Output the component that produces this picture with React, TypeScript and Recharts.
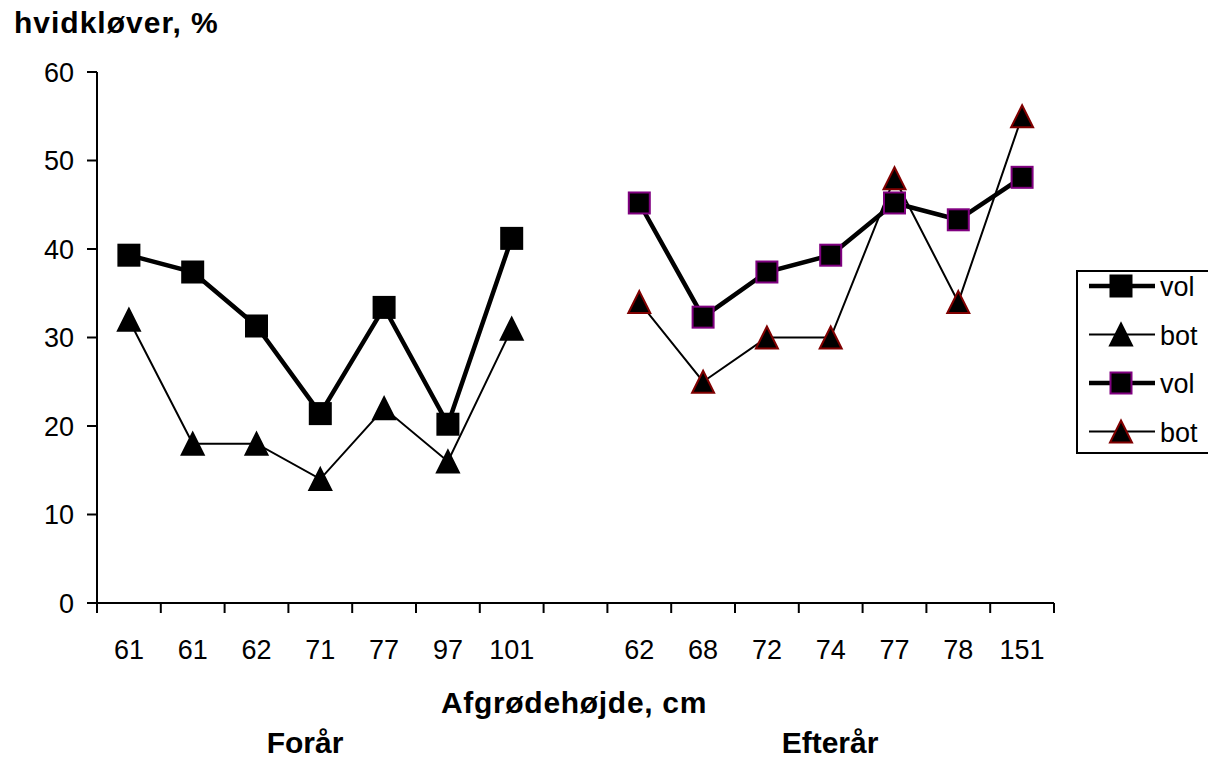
import React from "react"
import { LineChart, Line, XAxis, YAxis } from "recharts"

const categories = ["61", "61", "62", "71", "77", "97", "101", "", "62", "68", "72", "74", "77", "78", "151"]
const forVol = [39.3, 37.4, 31.3, 21.4, 33.4, 20.2, 41.2]
const forBot = [32, 18, 18, 14, 22, 16, 31]
const eftVol = [45.2, 32.3, 37.4, 39.3, 45.2, 43.3, 48.1]
const eftBot = [34, 25, 30, 30, 48, 34, 55]
const yTicks = [0, 10, 20, 30, 40, 50, 60]

const data = categories.map((label, i) => ({
  x: i + 0.5,
  label,
  forVol: i < 7 ? forVol[i] : null,
  forBot: i < 7 ? forBot[i] : null,
  eftVol: i >= 8 ? eftVol[i - 8] : null,
  eftBot: i >= 8 ? eftBot[i - 8] : null,
}))

const boundaryTicks = categories.map((_, i) => i).concat([categories.length])
const labelTicks = categories.map((_, i) => i + 0.5)

const FONT = "'Liberation Sans', Arial, sans-serif"

function Square({ cx, cy, stroke }: { cx: number; cy: number; stroke: string }) {
  const s = 21
  return <rect x={cx - s / 2} y={cy - s / 2} width={s} height={s} fill="#000" stroke={stroke} strokeWidth={2} />
}

function Triangle({ cx, cy, stroke }: { cx: number; cy: number; stroke: string }) {
  const w = 22
  const h = 22
  const pts = `${cx},${cy - h / 2} ${cx + w / 2},${cy + h / 2} ${cx - w / 2},${cy + h / 2}`
  return <polygon points={pts} fill="#000" stroke={stroke} strokeWidth={2} strokeLinejoin="miter" />
}

const dot = (kind: "sq" | "tri", stroke: string) => (props: any) => {
  const { cx, cy, index } = props
  if (cx == null || cy == null || props.value == null) return <g key={index} />
  return (
    <g key={index}>
      {kind === "sq" ? <Square cx={cx} cy={cy} stroke={stroke} /> : <Triangle cx={cx} cy={cy} stroke={stroke} />}
    </g>
  )
}

const legendItems = [
  { name: "vol", kind: "sq", stroke: "#000", width: 4.5 },
  { name: "bot", kind: "tri", stroke: "#000", width: 2 },
  { name: "vol", kind: "sq", stroke: "#800080", width: 4.5 },
  { name: "bot", kind: "tri", stroke: "#800000", width: 2 },
]

export default function App() {
  return (
    <div style={{ position: "absolute", left: 0, top: 0, width: 1208, height: 758, background: "#fff", overflow: "hidden" }}>
      <LineChart width={1208} height={758} data={data} margin={{ top: 72, right: 154, left: 0, bottom: 0 }}>
        <XAxis
          dataKey="x"
          type="number"
          domain={[0, 15]}
          ticks={boundaryTicks}
          interval={0}
          tickFormatter={() => ""}
          height={10}
          tickSize={10}
          axisLine={{ stroke: "#000", strokeWidth: 2 }}
          tickLine={{ stroke: "#000", strokeWidth: 2 }}
        />
        <XAxis
          xAxisId="lab"
          dataKey="x"
          type="number"
          domain={[0, 15]}
          ticks={labelTicks}
          interval={0}
          height={145}
          tickSize={0}
          tickMargin={27}
          axisLine={false}
          tickLine={false}
          tickFormatter={(v: number) => categories[Math.floor(v)]}
          tick={{ fill: "#000", fontSize: 27, fontFamily: FONT }}
        />
        <XAxis xAxisId="top" orientation="top" type="number" domain={[0, 15]} height={0} tick={false} tickLine={false} axisLine={{ stroke: "#808080", strokeWidth: 2 }} />
        <YAxis
          domain={[0, 60]}
          ticks={yTicks}
          interval={0}
          width={97}
          tickSize={10}
          tickMargin={13}
          axisLine={{ stroke: "#000", strokeWidth: 2 }}
          tickLine={{ stroke: "#000", strokeWidth: 2 }}
          tick={{ fill: "#000", fontSize: 27, fontFamily: FONT }}
        />
        <YAxis yAxisId="r" orientation="right" domain={[0, 60]} width={0} tick={false} tickLine={false} axisLine={{ stroke: "#808080", strokeWidth: 2 }} />
        <Line dataKey="forVol" name="vol" stroke="#000" strokeWidth={4.5} dot={dot("sq", "#000")} activeDot={false} isAnimationActive={false} />
        <Line dataKey="forBot" name="bot" stroke="#000" strokeWidth={2} dot={dot("tri", "#000")} activeDot={false} isAnimationActive={false} />
        <Line dataKey="eftVol" name="vol" stroke="#000" strokeWidth={4.5} dot={dot("sq", "#800080")} activeDot={false} isAnimationActive={false} />
        <Line dataKey="eftBot" name="bot" stroke="#000" strokeWidth={2} dot={dot("tri", "#800000")} activeDot={false} isAnimationActive={false} />
      </LineChart>

      <svg width={1208} height={758} style={{ position: "absolute", left: 0, top: 0, pointerEvents: "none" }} fontFamily={FONT}>
        <text x={14} y={33} fontSize={30} fontWeight="bold" fill="#000" letterSpacing={1}>hvidkløver, %</text>
        <text x={574} y={713} fontSize={30} fontWeight="bold" fill="#000" textAnchor="middle" letterSpacing={0.7}>Afgrødehøjde, cm</text>
        <text x={305} y={753} fontSize={30} fontWeight="bold" fill="#000" textAnchor="middle">Forår</text>
        <text x={830} y={753} fontSize={30} fontWeight="bold" fill="#000" textAnchor="middle">Efterår</text>
      </svg>

      <div style={{ position: "absolute", left: 1076, top: 270, width: 150, height: 184, border: "2px solid #000", boxSizing: "border-box", background: "#fff" }}>
        <svg width={150} height={184} style={{ position: "absolute", left: -2, top: -2 }} fontFamily={FONT}>
          {legendItems.map((it, i) => {
            const cy = 16 + i * 48.5
            return (
              <g key={i}>
                <line x1={13} x2={79} y1={cy} y2={cy} stroke="#000" strokeWidth={it.width} />
                {it.kind === "sq" ? <Square cx={45} cy={cy} stroke={it.stroke} /> : <Triangle cx={45} cy={cy} stroke={it.stroke} />}
                <text x={84} y={cy + 10} fontSize={27} fill="#000">{it.name}</text>
              </g>
            )
          })}
        </svg>
      </div>
    </div>
  )
}
